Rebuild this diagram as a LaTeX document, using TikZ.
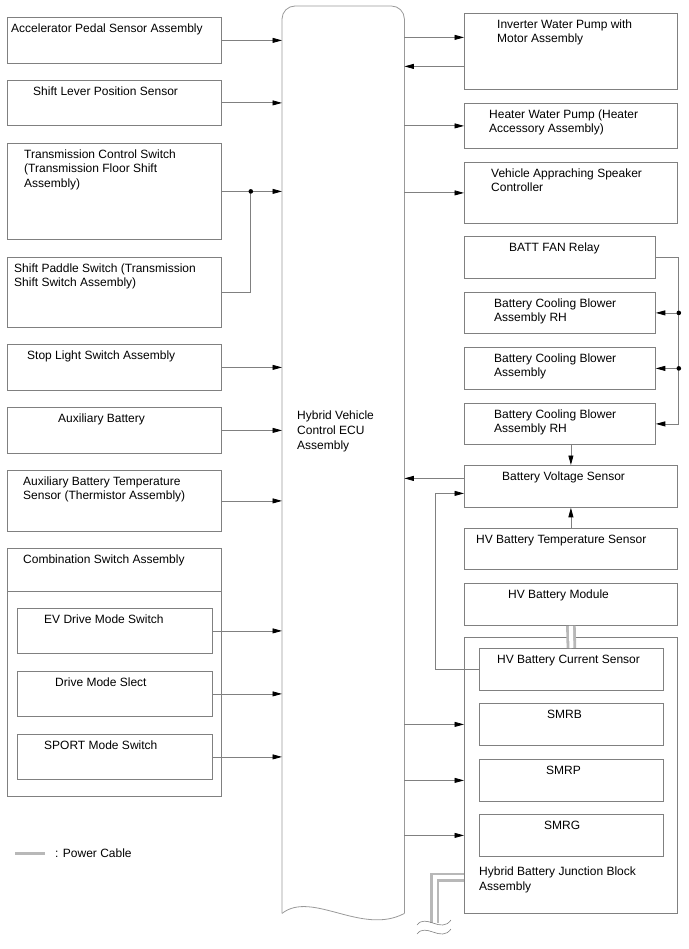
\documentclass[tikz,border=0pt]{standalone}
\usepackage{fontspec}
\setmainfont{Liberation Sans}
\usetikzlibrary{arrows.meta,positioning}
\definecolor{linegray}{gray}{0.5}
\definecolor{ecugray}{gray}{0.6}
\definecolor{cablegray}{gray}{0.72}
\newcommand{\diagfont}{\fontsize{12}{14.6}\selectfont}

\begin{document}
\begin{tikzpicture}[
  x=1pt, y=-1pt,
  font=\diagfont,
  box/.style={draw=linegray, line width=0.8pt, inner sep=0pt, anchor=north west},
  sz/.style 2 args={minimum width=#1pt, minimum height=#2pt},
  lbl/.style={anchor=north west, inner sep=0pt, align=left, yshift=-6.5pt},
  wire/.style={draw=linegray, line width=0.8pt},
  arr/.style={wire, -{Triangle[length=9.5pt, width=5pt, color=black]}},
  cable/.style={draw=cablegray, line width=2.8pt, double=white, double distance=4pt}]
\useasboundingbox (0,0) rectangle (688,949);

% ECU in the middle
\node[sz={122}{907}, inner sep=0pt, anchor=north west] (ecu) at (282,6) {};
\draw[draw=ecugray, line width=0.8pt, rounded corners=13pt]
  (ecu.south west) -- (ecu.north west) -- (ecu.north east) -- (ecu.south east);
\draw[draw=ecugray, line width=0.8pt]
  (ecu.south west) .. controls (312,890) and (362,936) .. (ecu.south east);
\node[lbl] (ecutxt) at (297,404.5) {Hybrid Vehicle\\Control ECU\\Assembly};

% inputs on the left
\node[box, sz={214}{46}, label={[lbl, xshift=4pt]north west:Accelerator Pedal Sensor Assembly}] (acc) at (7,17) {};
\node[box, sz={214}{45}, label={[lbl, xshift=26pt]north west:Shift Lever Position Sensor}] (slp) at (7,80) {};
\node[box, sz={214}{96}, label={[lbl, xshift=17pt]north west:Transmission Control Switch\\(Transmission Floor Shift\\Assembly)}] (tcs) at (7,143) {};
\node[box, sz={214}{70}, label={[lbl, xshift=7pt]north west:Shift Paddle Switch (Transmission\\Shift Switch Assembly)}] (psw) at (7,257) {};
\node[box, sz={214}{46}, label={[lbl, xshift=20pt]north west:Stop Light Switch Assembly}] (stop) at (7,344) {};
\node[box, sz={214}{46}, label={[lbl, xshift=51pt]north west:Auxiliary Battery}] (aux) at (7,407) {};
\node[box, sz={214}{61}, label={[lbl, xshift=16pt]north west:Auxiliary Battery Temperature\\Sensor (Thermistor Assembly)}] (auxtemp) at (7,470) {};
\node[box, sz={214}{248}, label={[lbl, xshift=16pt]north west:Combination Switch Assembly}] (comb) at (7,548) {};
\draw[wire] ([yshift=-43pt]comb.north west) -- ([yshift=-43pt]comb.north east);
\node[box, sz={195}{45}, label={[lbl, xshift=27pt]north west:EV Drive Mode Switch}] (evsw) at (17,608) {};
\node[box, sz={195}{45}, label={[lbl, xshift=38pt]north west:Drive Mode Slect}] (dmsel) at (17,671) {};
\node[box, sz={195}{45}, label={[lbl, xshift=27pt]north west:SPORT Mode Switch}] (sport) at (17,734) {};

% outputs and battery side on the right
\node[box, sz={213}{76}, label={[lbl, xshift=33pt]north west:Inverter Water Pump with\\Motor Assembly}] (invpump) at (464,13) {};
\node[box, sz={213}{45}, label={[lbl, xshift=25pt]north west:Heater Water Pump (Heater\\Accessory Assembly)}] (htrpump) at (464,103) {};
\node[box, sz={213}{61}, label={[lbl, xshift=27pt]north west:Vehicle Appraching Speaker\\Controller}] (vasc) at (464,162) {};
\node[box, sz={191}{42}, label={[lbl, xshift=45pt]north west:BATT FAN Relay}] (fanrly) at (464,236) {};
\node[box, sz={191}{41}, label={[lbl, xshift=30pt]north west:Battery Cooling Blower\\Assembly RH}] (blwrh) at (464,292) {};
\node[box, sz={191}{42}, label={[lbl, xshift=30pt]north west:Battery Cooling Blower\\Assembly}] (blw) at (464,347) {};
\node[box, sz={191}{41}, label={[lbl, xshift=30pt]north west:Battery Cooling Blower\\Assembly RH}] (blwrh2) at (464,403) {};
\node[box, sz={213}{42}, label={[lbl, xshift=38pt]north west:Battery Voltage Sensor}] (vsens) at (464,465) {};
\node[box, sz={213}{41}, label={[lbl, xshift=12pt]north west:HV Battery Temperature Sensor}] (tsens) at (464,528) {};
\node[box, sz={213}{42}, label={[lbl, xshift=44pt]north west:HV Battery Module}] (hvmod) at (464,583) {};
\node[box, sz={213}{276}, label={[lbl, xshift=15pt, yshift=53.5pt]south west:Hybrid Battery Junction Block\\Assembly}] (jblock) at (464,637) {};
\node[box, sz={184}{42}, label={[lbl, xshift=18pt]north west:HV Battery Current Sensor}] (csens) at (479,648) {};
\node[box, sz={184}{42}, label={[lbl, xshift=68pt]north west:SMRB}] (smrb) at (479,703) {};
\node[box, sz={184}{42}, label={[lbl, xshift=67pt]north west:SMRP}] (smrp) at (479,759) {};
\node[box, sz={184}{42}, label={[lbl, xshift=65pt]north west:SMRG}] (smrg) at (479,814) {};

% signals into the ECU
\draw[arr] (acc.east) -- (acc.east -| ecu.west);
\draw[arr] (slp.east) -- (slp.east -| ecu.west);
\coordinate[right=29pt of tcs.east] (tcsjn);
\draw[arr] (tcs.east) -- (tcs.east -| ecu.west);
\draw[wire] (psw.east) -| (tcsjn);
\fill (tcsjn) circle[radius=2.3pt];
\draw[arr] (stop.east) -- (stop.east -| ecu.west);
\draw[arr] (aux.east) -- (aux.east -| ecu.west);
\draw[arr] (auxtemp.east) -- (auxtemp.east -| ecu.west);
\draw[arr] (evsw.east) -- (evsw.east -| ecu.west);
\draw[arr] (dmsel.east) -- (dmsel.east -| ecu.west);
\draw[arr] (sport.east) -- (sport.east -| ecu.west);

% ECU to the right side
\coordinate (invin) at ([yshift=14pt]invpump.west);
\coordinate (invout) at ([yshift=-15pt]invpump.west);
\draw[arr] (invin -| ecu.east) -- (invin);
\draw[arr] (invout) -- (invout -| ecu.east);
\draw[arr] (htrpump.west -| ecu.east) -- (htrpump.west);
\draw[arr] (vasc.west -| ecu.east) -- (vasc.west);

% fan relay feeds the blowers
\coordinate[right=23pt of fanrly.east] (fanjn);
\draw[arr] (fanrly.east) -- (fanjn) |- (blwrh2.east);
\draw[arr] (fanjn |- blwrh.east) -- (blwrh.east);
\draw[arr] (fanjn |- blw.east) -- (blw.east);
\fill (fanjn |- blwrh.east) circle[radius=2.3pt];
\fill (fanjn |- blw.east) circle[radius=2.3pt];

% battery sensors
\coordinate (vsout) at ([yshift=8pt]vsens.west);
\coordinate (vsin) at ([yshift=-7pt]vsens.west);
\draw[arr] (vsens.north |- blwrh2.south) -- (vsens.north);
\draw[arr] (tsens.north) -- (vsens.south);
\draw[arr] (vsout) -- (vsout -| ecu.east);
\draw[arr] (csens.west) -| ([xshift=-29pt]vsin) -- (vsin);
\draw[arr] (smrb.west -| ecu.east) -- (smrb.west -| jblock.west);
\draw[arr] (smrp.west -| ecu.east) -- (smrp.west -| jblock.west);
\draw[arr] (smrg.west -| ecu.east) -- (smrg.west -| jblock.west);

% power cables
\draw[cable] (hvmod.south) -- (csens.north);
\coordinate (cbend) at (434.5,923);
\coordinate (cbjn) at ([yshift=-102pt]jblock.west);
\draw[cable] (cbend) |- (cbjn);
\draw[wire, line width=0.6pt] (417,925) .. controls (426,913) and (441,934) .. (451,920);
\draw[wire, line width=0.6pt] (417,934) .. controls (426,922) and (441,943) .. (451,929);

% legend
\coordinate (lgd) at (15,853);
\draw[draw=cablegray, line width=3pt] (lgd) -- ++(30,0);
\node[anchor=west, inner sep=0pt] (lgdtxt) at (55,853) {: Power Cable};
\end{tikzpicture}
\end{document}
